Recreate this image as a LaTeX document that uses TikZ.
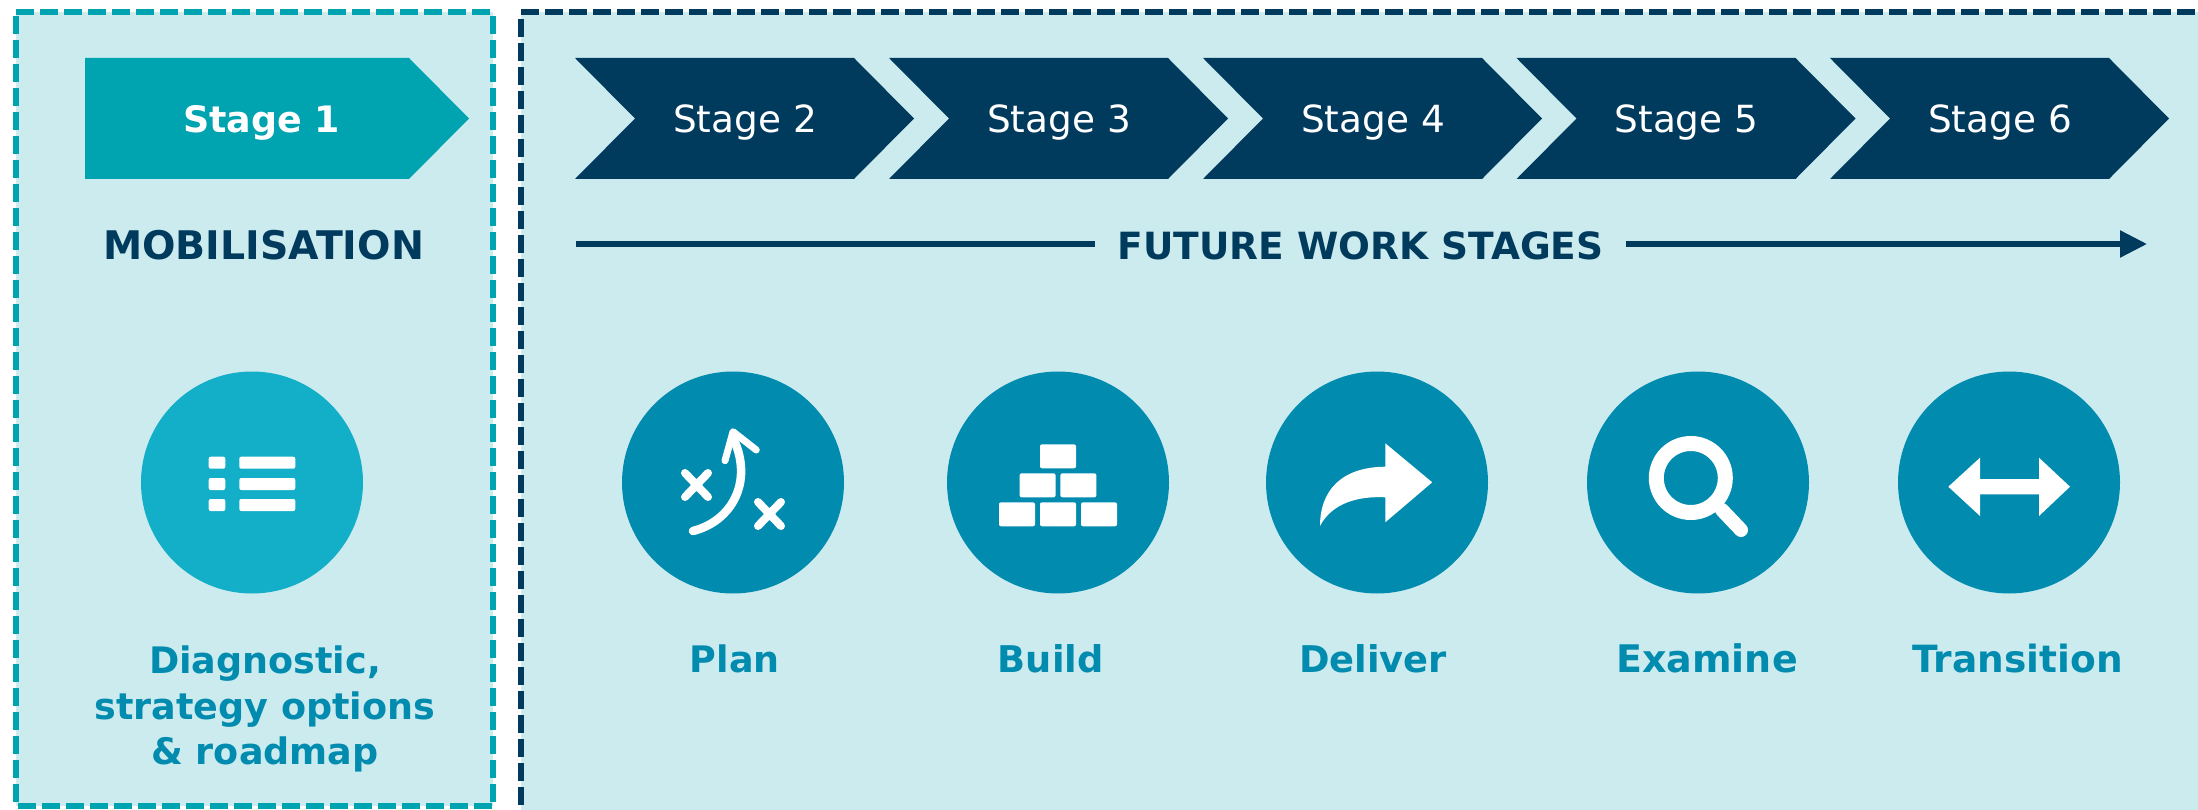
\documentclass[tikz,border=0pt]{standalone}
\usepackage{fontspec}
\setmainfont{DejaVu Sans}
\usetikzlibrary{positioning, arrows.meta}
\definecolor{panelfill}{HTML}{CCEBEF}
\definecolor{navyblue}{HTML}{003A5D}
\definecolor{tealblue}{HTML}{00A3B0}
\definecolor{iconblue}{HTML}{008BAF}
\definecolor{iconteal}{HTML}{13AEC7}

\begin{document}
\begin{tikzpicture}[x=1pt, y=-1pt]
        % Styles
        \tikzstyle{panel} = [fill=panelfill]
        \tikzstyle{dashline} = [line width=6pt, dash pattern=on 18pt off 6pt]
        \tikzstyle{stagetext} = [text=white, anchor=base, inner sep=0pt, font=\fontsize{37.4}{42}\selectfont]
        \tikzstyle{headtext} = [text=navyblue, anchor=base, font=\fontsize{37.5}{44}\selectfont\bfseries]
        \tikzstyle{labeltext} = [text=iconblue, anchor=base, inner sep=0pt, font=\fontsize{36.5}{45.5}\selectfont\bfseries]
        \tikzstyle{iconcircle} = [circle, fill=iconblue, minimum size=222pt, inner sep=0pt]
        \tikzstyle{flowline} = [draw=navyblue, line width=5.5pt]
        \tikzstyle{iconline} = [draw=white, line cap=round, line join=round]
        \tikzstyle{brick} = [fill=white, rounded corners=2pt]

        \useasboundingbox (0,0) rectangle (2198,810);
        \clip (0,0) rectangle (2198,810);

        % Panels
        \fill[panel] (16,12.5) rectangle (493,806);
        \fill[panel] (521,12.5) rectangle (2198,810);
        \draw[dashline, draw=tealblue] (16,12.5) -- (493,12.5) (16.2,16) -- (16.2,806) (493.3,16) -- (493.3,806) (18,806) -- (493,806);
        \draw[dashline, draw=navyblue] (521,12.5) -- (2198,12.5) (521,19) -- (521,810);

        % Stage arrows
        \fill[tealblue] (85,58) -- (409,58) -- (469,118.5) -- (409,179) -- (85,179) -- cycle;
        \node[stagetext, font=\fontsize{36.4}{42}\selectfont\bfseries] (stage1) at (261.5,133) {Stage 1};
        \foreach \n/\x in {2/575, 3/889, 4/1203, 5/1516.5, 6/1830} {
            \fill[navyblue] (\x,58) -- ++(279,0) -- ++(60,60.5) -- ++(-60,60.5) -- ++(-279,0) -- ++(60,-60.5) -- cycle;
            \node[stagetext] (stage\n) at (\x+170,133) {Stage \n};
        }

        % Headings
        \node[headtext, font=\fontsize{39.4}{44}\selectfont\bfseries] (mobilisation) at (263.6,259.3) {MOBILISATION};
        \node[headtext, inner xsep=22pt] (future) at (1360.5,259.3) {FUTURE WORK STAGES};
        \coordinate (flowstart) at (576,244);
        \coordinate (flowend) at (2147,244);
        \draw[flowline] (flowstart) -- (future.west |- flowstart);
        \draw[flowline, -{Triangle[length=27pt, width=26pt]}] (future.east |- flowend) -- (flowend);

        % Circles and labels
        \node[iconcircle, fill=iconteal] (circlemob) at (252,482.5) {};
        \node[labeltext, anchor=center, align=center] (labelmob) at (265,709) {Diagnostic,\\strategy options\\\& roadmap};
        \foreach \name/\x/\lx/\size/\txt in {plan/733/734.7/36.5/Plan, build/1058/1050.8/36.8/Build, deliver/1377/1373/36.8/Deliver, examine/1698/1707/38/Examine, transition/2009/2017.6/37.5/Transition} {
            \node[iconcircle] (circle\name) at (\x,482.5) {};
            \node[labeltext, font=\fontsize{\size}{45}\selectfont\bfseries] (label\name) at (\lx,672.7) {\txt};
        }

        % List icon
        \foreach \y in {456.7, 478, 499} {
            \fill[brick] (208.7,\y) rectangle ++(16.6,12);
            \fill[brick] (239.3,\y) rectangle ++(56,12);
        }

        % Plan icon
        \draw[iconline, line width=8.5pt] (693,531) .. controls (732,521) and (753,482) .. (734,440);
        \draw[iconline, line width=7pt] (725,460.7) -- (733,431.7) -- (756.3,450);
        \draw[iconline, line width=8pt] (685,473) -- (708,497) (708,473) -- (685,497);
        \draw[iconline, line width=8pt] (758,502) -- (781,526) (781,502) -- (758,526);

        % Build icon
        \fill[brick] (1040,444.3) rectangle ++(36,24);
        \foreach \x in {1019.6, 1060.4} {
            \fill[brick] (\x,473.3) rectangle ++(36,24);
        }
        \foreach \x in {999, 1040, 1081} {
            \fill[brick] (\x,502.3) rectangle ++(36,24);
        }

        % Deliver icon
        \fill[white] (1432.2,482.3) -- (1385.3,443.3) -- (1385.3,466.7) .. controls (1342,467) and (1320,490) .. (1320,526) .. controls (1332,503) and (1358,496) .. (1385.3,497.3) -- (1385.3,522.3) -- cycle;

        % Examine icon
        \draw[draw=white, line width=15pt] (1690.8,478) circle (34.5pt);
        \draw[iconline, line width=14pt] (1722,510) -- (1741,530);

        % Transition icon
        \fill[white] (1948.3,486.7) -- (1980,457.7) -- (1980,479) -- (2039,479) -- (2039,457.7) -- (2070,486.7) -- (2039,516) -- (2039,494.3) -- (1980,494.3) -- (1980,516) -- cycle;

    \end{tikzpicture}
\end{document}
